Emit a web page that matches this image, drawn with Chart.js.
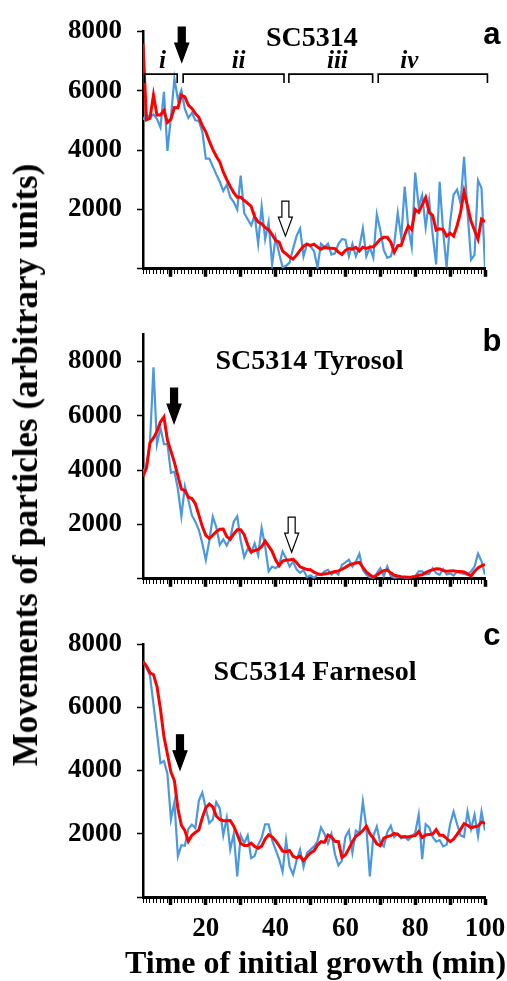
<!DOCTYPE html>
<html>
<head>
<meta charset="utf-8">
<script src="https://cdn.jsdelivr.net/npm/chart.js@4.4.1/dist/chart.umd.min.js"></script>
<style>
  body { margin:0; background:#fff; }
  #page { position:relative; width:507px; height:981px; overflow:hidden; background:#fff; }
  .panel { position:absolute; left:0; width:540px; }
  #yTitle { position:absolute; left:26px; top:465px; transform:translate(-50%,-50%) rotate(-90deg);
    white-space:nowrap; font:bold 35px "Liberation Serif", serif; line-height:40px; color:#000; }
  #xTitle { position:absolute; left:125px; top:946px; white-space:nowrap;
    font:bold 32px "Liberation Serif", serif; line-height:32px; color:#000; }
</style>
</head>
<body>
<div id="page">
  <div class="panel" style="top:0;height:300px"><canvas id="chartA"></canvas></div>
  <div class="panel" style="top:300px;height:310px"><canvas id="chartB"></canvas></div>
  <div class="panel" style="top:610px;height:371px"><canvas id="chartC"></canvas></div>
  <div id="yTitle">Movements of particles (arbitrary units)</div>
  <div id="xTitle">Time of initial growth (min)</div>
</div>
<script>
// time points (min)
const minutes = [2,3,4,5,6,7,8,9,10,11,12,13,14,15,16,17,18,19,20,21,22,23,24,25,26,27,28,29,30,31,
  32,33,34,35,36,37,38,39,40,41,42,43,44,45,46,47,48,49,50,51,52,53,54,55,56,57,58,59,60,61,
  62,63,64,65,66,67,68,69,70,71,72,73,74,75,76,77,78,79,80,81,82,83,84,85,86,87,88,89,90,91,
  92,93,94,95,96,97,98,99,100];

// a: SC5314
const blueA = [5020,5200,5100,5200,5050,4760,5960,3970,5100,6400,
  5700,6010,5380,5080,5250,5000,4980,4620,3710,3710,
  3450,3180,2930,2620,2830,2410,2250,1990,3140,1880,
  1670,1460,1800,840,2090,1000,1570,150,1050,520,
  50,100,210,680,1100,1360,420,840,750,600,
  50,840,730,840,480,520,840,1000,980,420,
  840,420,730,1360,420,730,370,1830,1300,630,
  370,420,840,1880,1050,2770,1400,730,3240,2090,
  2480,1400,2300,1150,150,2930,1260,50,1570,2500,
  2670,2200,3770,1900,300,470,2980,2720,50];
const redA = [7580,5020,5070,5850,5180,5180,5330,4930,5040,5430,
  5420,5850,5790,5510,5400,5230,5100,4820,4610,4300,
  4020,3790,3600,3260,3000,2770,2560,2410,2410,2300,
  2200,2100,1750,1570,1520,1390,1320,1150,960,900,
  600,500,400,330,460,620,760,830,790,830,
  730,660,720,700,690,680,560,480,620,680,
  660,720,600,730,690,730,740,860,1000,1060,
  1060,900,560,780,790,1150,1440,1320,2000,1900,
  2150,2400,1900,1800,1300,1350,1320,1100,1200,1100,
  1450,1900,2600,2100,1600,1300,1000,1670,1580];

// b: SC5314 Tyrosol
const blueB = [3900,4200,5000,7780,4950,5550,4950,4950,3900,3940,
  3300,2300,3400,2900,2340,2100,1800,1300,690,1400,
  2280,1900,1250,1450,1220,1500,2100,2300,1400,800,
  1100,950,1300,870,1870,1200,270,450,390,500,
  1000,760,450,630,350,220,320,60,130,30,
  150,140,270,330,150,250,150,510,600,700,
  450,630,920,330,150,60,30,200,390,100,
  450,100,30,60,50,40,30,60,100,270,
  270,160,180,390,210,150,360,160,200,120,
  270,210,180,150,270,450,920,650,150];
const redB = [3760,4070,5000,5180,5420,5770,5950,5100,4700,4280,
  3780,3300,3250,3000,2950,2760,2350,1920,1600,1480,
  1600,1730,1820,1830,1550,1450,1650,1800,1800,1620,
  1250,990,1040,1080,1180,1390,1200,1010,700,480,
  650,690,690,720,600,440,390,340,330,240,
  190,160,180,200,230,270,290,350,420,500,
  550,580,600,420,250,150,60,130,230,300,
  320,220,130,100,80,70,60,65,90,130,
  150,230,290,330,370,360,300,280,290,300,
  270,270,250,180,100,270,400,480,530];

// c: SC5314 Farnesol
const blueC = [7450,7250,7000,6100,5190,4230,4300,3900,2450,3000,
  1290,1640,1620,2150,2290,2180,3050,3300,2800,2340,
  2450,3000,2800,1950,2500,1500,2000,650,1950,1700,
  1950,1230,1300,1650,1870,2300,2300,1800,1500,1200,
  800,1800,970,710,1150,1500,950,1400,1500,1600,
  1760,2200,2000,1700,2000,1350,1000,1150,1900,2100,
  1400,2100,2020,3020,2200,650,1920,2230,1700,1600,
  2050,2250,1900,2000,1850,1900,1800,1900,2030,2600,
  1200,2300,2200,1900,1750,1800,1600,1650,2300,2700,
  2300,1950,1900,2700,2150,2600,1920,2700,2100];
const redC = [7450,7300,7090,7030,6660,5940,5070,4520,3950,3680,
  2800,2270,2100,1760,1950,2040,2120,2510,2820,2940,
  2850,2560,2450,2410,2410,2420,2240,1980,1690,1630,
  1630,1700,1600,1540,1610,1830,1970,1900,1780,1620,
  1450,1430,1470,1290,1240,1290,1150,1280,1390,1460,
  1640,1750,1730,1960,1900,1760,1750,1250,1330,1530,
  1750,1920,2000,2100,2240,2000,1860,1680,1620,1860,
  1910,1940,2010,1980,1900,1910,1900,1930,1940,2070,
  1880,1960,1980,1990,2130,1950,1950,1850,1750,1830,
  1980,2140,2320,2270,2190,2220,2240,2370,2330];

const xTickLabels = [20, 40, 60, 80, 100];
const phases = [
  {label:'i', from:2.4, to:11.8, at:7.6},
  {label:'ii', from:13.5, to:42.4, at:29.4},
  {label:'iii', from:43.8, to:67.8, at:57.7},
  {label:'iv', from:69.4, to:100.7, at:78.3}
];

const BLUE = '#4a98e0';
const RED = '#ff0000';
const serif = '"Liberation Serif", "Times New Roman", serif';

Chart.defaults.font.family = serif;
Chart.defaults.color = '#000';

// arrows, brackets and panel texts, placed in data units
const marks = {
  id: 'marks',
  afterDraw(chart, args, opts) {
    const ctx = chart.ctx;
    const x = chart.scales.x, y = chart.scales.y;
    ctx.save();
    ctx.strokeStyle = '#000';
    ctx.fillStyle = '#000';
    if (opts.brackets) {
      const by = y.getPixelForValue(opts.bracketY);
      ctx.lineWidth = 1.6;
      opts.brackets.forEach(b => {
        const x1 = x.getPixelForValue(b.from), x2 = x.getPixelForValue(b.to);
        ctx.beginPath();
        ctx.moveTo(x1, by + 9);
        ctx.lineTo(x1, by);
        ctx.lineTo(x2, by);
        ctx.lineTo(x2, by + 9);
        ctx.stroke();
        ctx.font = 'italic bold 25px ' + serif;
        ctx.textAlign = 'center';
        ctx.textBaseline = 'alphabetic';
        ctx.fillText(b.label, x.getPixelForValue(b.at), y.getPixelForValue(opts.romanY));
      });
    }
    (opts.arrows || []).forEach(a => {
      const tx = x.getPixelForValue(a.x), ty = y.getPixelForValue(a.y);
      const L = 35, H = 19, hw = 14, sw = 7;
      ctx.beginPath();
      ctx.moveTo(tx - sw / 2, ty - L);
      ctx.lineTo(tx + sw / 2, ty - L);
      ctx.lineTo(tx + sw / 2, ty - H);
      ctx.lineTo(tx + hw / 2, ty - H);
      ctx.lineTo(tx, ty);
      ctx.lineTo(tx - hw / 2, ty - H);
      ctx.lineTo(tx - sw / 2, ty - H);
      ctx.closePath();
      ctx.fillStyle = a.open ? '#fff' : '#000';
      ctx.fill();
      ctx.lineWidth = 1.2;
      ctx.stroke();
    });
    (opts.texts || []).forEach(t => {
      ctx.fillStyle = '#000';
      ctx.font = t.font;
      ctx.textAlign = 'center';
      ctx.textBaseline = 'alphabetic';
      ctx.fillText(t.text, x.getPixelForValue(t.x), y.getPixelForValue(t.y));
    });
    ctx.restore();
  }
};

function makePanel(id, blue, red, yMax, top, xHeight, showLabels, markOpts) {
  return new Chart(document.getElementById(id), {
    type: 'line',
    data: {
      datasets: [
        { data: minutes.map((m, i) => ({x: m, y: red[i]})), borderColor: RED, borderWidth: 3 },
        { data: minutes.map((m, i) => ({x: m, y: blue[i]})), borderColor: BLUE, borderWidth: 2.2 }
      ]
    },
    options: {
      responsive: true,
      maintainAspectRatio: false,
      animation: false,
      layout: { padding: { left: 0, right: 55, top: top, bottom: 0 } },
      elements: { point: { radius: 0 }, line: { tension: 0 } },
      plugins: { legend: { display: false }, tooltip: { enabled: false }, marks: markOpts },
      scales: {
        x: {
          type: 'linear', min: 2, max: 100,
          afterFit: s => { s.height = xHeight; },
          border: { color: '#000', width: 3 },
          grid: {
            drawOnChartArea: false, tickLength: 8, tickColor: '#000',
            tickWidth: c => (c.tick && c.tick.value % 10 === 0 ? 3.5 : 1),
            tickBorderDash: c => (c.tick && c.tick.value % 10 === 0 ? [] : [4, 30])
          },
          ticks: {
            stepSize: 1, autoSkip: false, maxRotation: 0, minRotation: 0, padding: 8,
            font: { size: 27, weight: 'bold', lineHeight: 1.2 },
            callback: v => (showLabels && xTickLabels.includes(v) ? String(v) : '')
          }
        },
        y: {
          min: 0, max: yMax,
          afterFit: s => { s.width = 143; },
          border: { color: '#000', width: 2.5 },
          grid: { drawOnChartArea: false, tickLength: 6, tickWidth: 1.5, tickColor: '#000' },
          ticks: {
            stepSize: 1000, padding: 15,
            font: { size: 27, weight: 'bold', lineHeight: 1.2 },
            callback: v => (v > 0 && v % 2000 === 0 ? String(v) : '')
          }
        }
      }
    },
    plugins: [marks]
  });
}

makePanel('chartA', blueA, redA, 8000, 25, 20, false, {
  bracketY: 6556, romanY: 6745, brackets: phases,
  arrows: [{x: 13.1, y: 6960}, {x: 42.8, y: 1100, open: true}],
  texts: [
    {text: 'SC5314', x: 50.4, y: 7507, font: 'bold 28px ' + serif},
    {text: 'a', x: 102, y: 7560, font: 'bold 31px "Liberation Sans", Arial, sans-serif'}
  ]
});

makePanel('chartB', blueB, redB, 9000, 34, 22, false, {
  arrows: [{x: 10.9, y: 5720}, {x: 44.6, y: 980, open: true}],
  texts: [
    {text: 'SC5314 Tyrosol', x: 49.7, y: 7730, font: 'bold 28px ' + serif},
    {text: 'b', x: 102, y: 8370, font: 'bold 31px "Liberation Sans", Arial, sans-serif'}
  ]
});

makePanel('chartC', blueC, redC, 8000, 34, 84, true, {
  arrows: [{x: 12.6, y: 4020}],
  texts: [
    {text: 'SC5314 Farnesol', x: 51.3, y: 6870, font: 'bold 28px ' + serif},
    {text: 'c', x: 102, y: 7970, font: 'bold 31px "Liberation Sans", Arial, sans-serif'}
  ]
});
</script>
</body>
</html>
